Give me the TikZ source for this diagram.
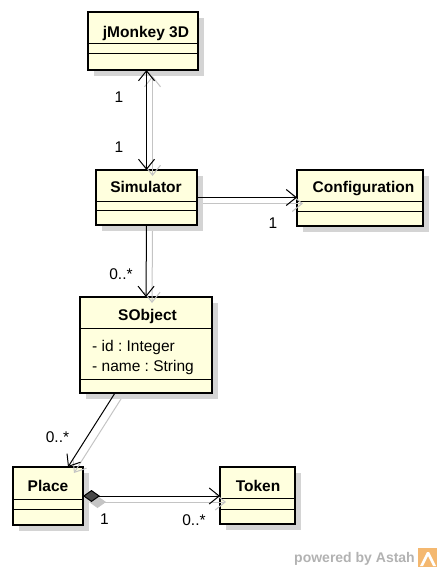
\documentclass[tikz,border=0pt]{standalone}
\usepackage{fontspec}
\setmainfont{Liberation Sans}
\usetikzlibrary{arrows.meta,shadows}
\definecolor{boxfill}{RGB}{255,255,222}
\definecolor{shadowgray}{RGB}{212,212,212}
\definecolor{connshadow}{RGB}{196,196,196}
\definecolor{wmgray}{RGB}{178,178,178}
\definecolor{logoorange}{RGB}{244,184,112}
\frenchspacing
\begin{document}
\begin{tikzpicture}[x=1pt,y=-1pt,
  cls/.style={draw=black, line width=2.4pt, fill=boxfill, anchor=north west,
    inner sep=0pt, outer sep=0pt,
    drop shadow={shadow xshift=6pt, shadow yshift=-6pt, fill=shadowgray, opacity=1}},
  comp/.style={draw=black, line width=1pt},
  title/.style={font=\fontsize{15.5}{18}\selectfont\bfseries, inner sep=0pt, anchor=base},
  attr/.style={font=\fontsize{15.5}{18}\selectfont, inner sep=0pt, anchor=base west},
  mult/.style={font=\fontsize{15.5}{18}\selectfont, inner sep=0pt},
  conn/.style={draw=black, line width=1pt},
  cshad/.style={draw=connshadow, line width=1pt},
  nav/.style={-{Straight Barb[length=10pt,width=16pt]}},
  bothnav/.style={{Straight Barb[length=10pt,width=16pt]}-{Straight Barb[length=10pt,width=16pt]}},
  compo/.style={{Diamond[length=17pt,width=12pt,fill=black!72]}-{Straight Barb[length=10pt,width=16pt]}},
  compos/.style={{Diamond[length=17pt,width=12pt,fill=connshadow]}-{Straight Barb[length=10pt,width=16pt]}},
  sh/.style={shift={(6,6)}},
]
\useasboundingbox (0,0) rectangle (440,570);

% ---- classes ----
\node[cls, minimum width=110pt, minimum height=58pt] (jm) at (88,12) {};
\draw[comp] (jm.west |- 0,43) -- (jm.east |- 0,43);
\draw[comp] (jm.west |- 0,53) -- (jm.east |- 0,53);
\node[title] (jmt) at (146,37.5) {jMonkey 3D};

\node[cls, minimum width=101pt, minimum height=55pt] (sim) at (96,170) {};
\draw[comp] (sim.west |- 0,201) -- (sim.east |- 0,201);
\draw[comp] (sim.west |- 0,210) -- (sim.east |- 0,210);
\node[title] (simt) at (146,192.7) {Simulator};

\node[cls, minimum width=126pt, minimum height=56pt] (conf) at (297,170) {};
\draw[comp] (conf.west |- 0,201) -- (conf.east |- 0,201);
\draw[comp] (conf.west |- 0,211) -- (conf.east |- 0,211);
\node[title] (conft) at (363.5,192.7) {Configuration};

\node[cls, minimum width=132pt, minimum height=96pt] (sobj) at (80,297) {};
\draw[comp] (sobj.west |- 0,328) -- (sobj.east |- 0,328);
\draw[comp] (sobj.west |- 0,379) -- (sobj.east |- 0,379);
\node[title] (sobjt) at (147.5,320.5) {SObject};
\node[attr] (a1) at (92,351.5) {- id : Integer};
\node[attr] (a2) at (92,371.5) {- name : String};

\node[cls, minimum width=70pt, minimum height=58pt] (place) at (13,467) {};
\draw[comp] (place.west |- 0,499) -- (place.east |- 0,499);
\draw[comp] (place.west |- 0,509) -- (place.east |- 0,509);
\node[title] (placet) at (48,491) {Place};

\node[cls, minimum width=75pt, minimum height=57pt] (token) at (220,467) {};
\draw[comp] (token.west |- 0,498) -- (token.east |- 0,498);
\draw[comp] (token.west |- 0,509) -- (token.east |- 0,509);
\node[title] (tokent) at (258,491.5) {Token};

% ---- connector end points ----
\coordinate (jmbot) at (sim.north |- jm.south);
\coordinate (confin) at (sim.east -| conf.west);
\coordinate (sobjout) at ([xshift=35pt]sobj.south west);
\coordinate (placein) at ([xshift=55pt]place.north west);
\coordinate (tokenin) at (place.east -| token.west);

% ---- connector shadows ----
\draw[cshad, bothnav] ([sh]jmbot) -- ([sh]sim.north);
\draw[cshad, nav] ([sh]sim.east) -- ([sh]confin);
\draw[cshad, nav] ([sh]sim.south) -- ([sh]sobj.north);
\draw[cshad, nav] ([sh]sobjout) -- ([sh]placein);
\draw[cshad, compos] ([sh]place.east) -- ([sh]tokenin);

% ---- connectors ----
\draw[conn, bothnav] (jmbot) -- (sim.north);
\draw[conn, nav] (sim.east) -- (confin);
\draw[conn, nav] (sim.south) -- (sobj.north);
\draw[conn, nav] (sobjout) -- (placein);
\draw[conn, compo] (place.east) -- (tokenin);

% ---- multiplicities ----
\node[mult] (m1) at (119,97) {1};
\node[mult] (m2) at (119,147) {1};
\node[mult] (m3) at (273,223) {1};
\node[mult] (m4) at (121,274) {0..*};
\node[mult] (m5) at (57.5,437) {0..*};
\node[mult] (m6) at (104.5,519) {1};
\node[mult] (m7) at (194,520) {0..*};

% ---- watermark ----
\node[font=\fontsize{14}{16}\selectfont\bfseries, text=wmgray, inner sep=0pt, anchor=base east] (wm) at (415,562) {powered by Astah};
\fill[logoorange] (418,548) rectangle (437,567);
\fill[white] (420,566) -- (427,552) -- (429,552) -- (436,566) -- (433,566) -- (428,556) -- (423,566) -- cycle;
\end{tikzpicture}
\end{document}
